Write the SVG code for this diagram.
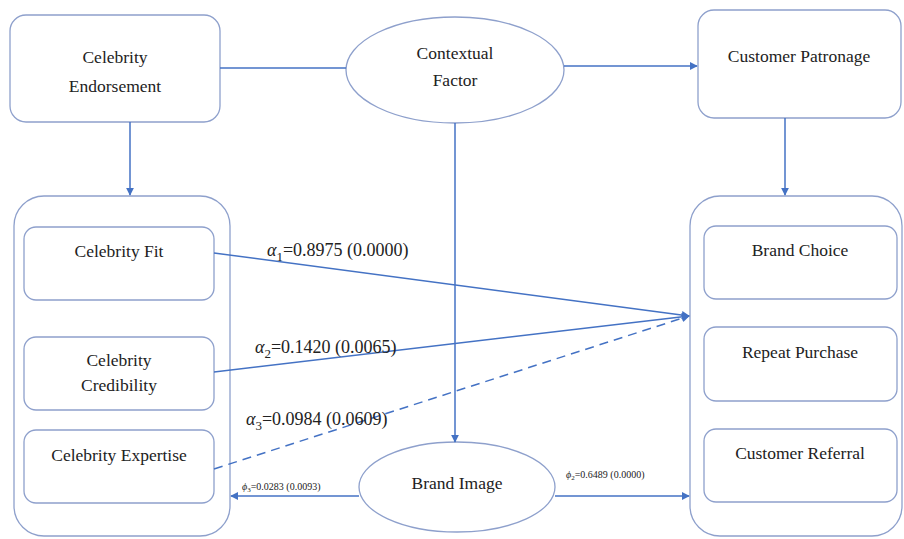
<svg xmlns="http://www.w3.org/2000/svg" width="904" height="539" viewBox="0 0 904 539">
<defs>
<marker id="ah" viewBox="0 0 10 10" refX="9" refY="5" markerWidth="8" markerHeight="8" markerUnits="userSpaceOnUse" orient="auto"><path d="M0,0 L10,5 L0,10 z" fill="#4472C4"/></marker>
<style>
.box{fill:#fff;stroke:#8EA0CC;stroke-width:1.3}
.t{font-size:17.5px;fill:#222;text-anchor:middle}
.lbl{font-size:18px;fill:#222}
.sm{font-size:10px;fill:#222}
.c{stroke:#4472C4;stroke-width:1.5;fill:none}
</style>
</defs>
<rect width="904" height="539" fill="#fff"/>
<g font-family="'Liberation Serif', 'Times New Roman', 'DejaVu Serif', serif">
<g id="celebrity-endorsement"><rect class="box" x="10" y="15" width="210" height="107" rx="16"/><text class="t" x="115" y="63">Celebrity</text><text class="t" x="115" y="92">Endorsement</text></g>
<g id="contextual-factor"><ellipse class="box" cx="455" cy="70" rx="109" ry="53"/><text class="t" x="455" y="59">Contextual</text><text class="t" x="455" y="86">Factor</text></g>
<g id="customer-patronage"><rect class="box" x="698" y="10" width="203" height="108" rx="16"/><text class="t" x="799" y="62">Customer Patronage</text></g>
<g id="left-group"><rect class="box" x="14" y="196" width="216" height="340" rx="30"/></g>
<g id="celebrity-fit"><rect class="box" x="24" y="227" width="190" height="73" rx="12"/><text class="t" x="119" y="257">Celebrity Fit</text></g>
<g id="celebrity-credibility"><rect class="box" x="24" y="337" width="190" height="73" rx="12"/><text class="t" x="119" y="366">Celebrity</text><text class="t" x="119" y="391">Credibility</text></g>
<g id="celebrity-expertise"><rect class="box" x="24" y="430" width="190" height="73" rx="12"/><text class="t" x="119" y="461">Celebrity Expertise</text></g>
<g id="right-group"><rect class="box" x="690" y="196" width="212" height="340" rx="30"/></g>
<g id="brand-choice"><rect class="box" x="704" y="226" width="193" height="73" rx="12"/><text class="t" x="800" y="256">Brand Choice</text></g>
<g id="repeat-purchase"><rect class="box" x="704" y="327" width="193" height="74" rx="12"/><text class="t" x="800" y="358">Repeat Purchase</text></g>
<g id="customer-referral"><rect class="box" x="704" y="429" width="193" height="73" rx="12"/><text class="t" x="800" y="459">Customer Referral</text></g>
<g id="brand-image"><ellipse class="box" cx="457" cy="487" rx="98" ry="45"/><text class="t" x="457" y="489">Brand Image</text></g>
<g id="connectors">
<line class="c" x1="220" y1="68" x2="346" y2="68"/>
<line class="c" x1="564" y1="66" x2="697" y2="66" marker-end="url(#ah)"/>
<line class="c" x1="130" y1="122" x2="130" y2="195" marker-end="url(#ah)"/>
<line class="c" x1="785" y1="118" x2="785" y2="195" marker-end="url(#ah)"/>
<line class="c" x1="455" y1="123" x2="455" y2="442" marker-end="url(#ah)"/>
<line class="c" x1="214" y1="253" x2="689" y2="316" marker-end="url(#ah)"/>
<line class="c" x1="214" y1="372" x2="689" y2="316" marker-end="url(#ah)"/>
<line class="c" x1="214" y1="469" x2="689" y2="316" stroke-dasharray="9,6" marker-end="url(#ah)"/>
<line class="c" x1="359" y1="496" x2="231" y2="496" marker-end="url(#ah)"/>
<line class="c" x1="555" y1="496" x2="689" y2="496" marker-end="url(#ah)"/>
</g>
<g id="labels">
<text class="lbl" x="267" y="256"><tspan font-style="italic">α</tspan><tspan font-size="13" dy="5">1</tspan><tspan dy="-5">=0.8975 (0.0000)</tspan></text>
<text class="lbl" x="255" y="353"><tspan font-style="italic">α</tspan><tspan font-size="13" dy="5">2</tspan><tspan dy="-5">=0.1420 (0.0065)</tspan></text>
<text class="lbl" x="246" y="425"><tspan font-style="italic">α</tspan><tspan font-size="13" dy="5">3</tspan><tspan dy="-5">=0.0984 (0.0609)</tspan></text>
<text class="sm" x="242" y="490"><tspan font-style="italic">ϕ</tspan><tspan font-size="7" dy="2">3</tspan><tspan dy="-2">=0.0283 (0.0093)</tspan></text>
<text class="sm" x="566" y="478"><tspan font-style="italic">ϕ</tspan><tspan font-size="7" dy="2">2</tspan><tspan dy="-2">=0.6489 (0.0000)</tspan></text>
</g>
</g>
</svg>
